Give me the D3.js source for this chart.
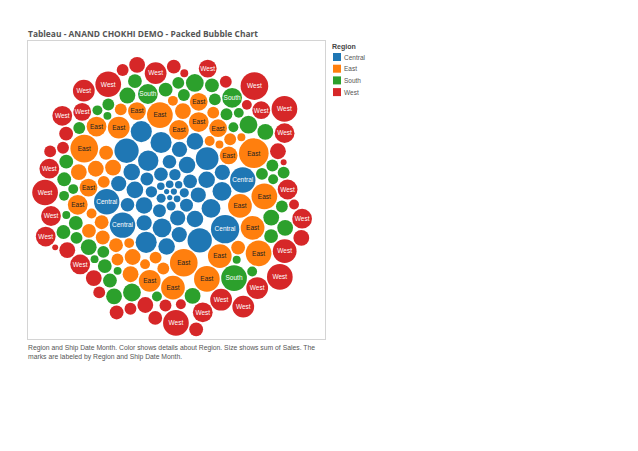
<!DOCTYPE html>
<html><head><meta charset="utf-8">
<script src="https://cdn.jsdelivr.net/npm/d3@7"></script>
<style>body{margin:0;background:#fff;} svg{display:block;}</style>
</head><body>
<svg id="chart" width="638" height="451"></svg>
<script>
const regions = ["Central", "East", "South", "West"];
const colors = ["#1f77b4", "#ff7f0e", "#2ca02c", "#d62728"];
const months = d3.range(48).map(i => d3.timeFormat("%b %Y")(new Date(2009 + Math.floor(i / 12), i % 12, 1)));

const centralSales = [700, 1000, 700, 1500, 1150, 1400, 2100, 1450, 2150, 3300, 2100, 4300, 3300, 4750, 4300, 5900, 4750, 7000, 4300, 7000, 5900, 9100, 4750, 7050, 10700, 7000, 5950, 9080, 7020, 11400, 5920, 13200, 7030, 5910, 15100, 4760, 9090, 16500, 7010, 11420, 5900, 20500, 15080, 7040, 16480, 5930, 11390, 16520];
const eastSales = [10000, 3600, 14400, 2500, 6400, 19600, 4900, 8100, 2510, 16900, 3610, 6390, 10020, 1600, 14380, 4910, 8090, 22500, 3590, 6410, 12100, 2490, 16880, 4890, 8110, 3620, 14420, 6400, 2500, 19580, 4900, 9990, 3600, 8100, 16920, 2510, 6390, 12110, 4880, 3600, 10010, 1610, 14400, 6420, 3590, 8120, 4900, 16900];
const southSales = [3600, 4900, 2500, 6400, 3610, 1600, 4890, 10000, 2510, 6400, 3590, 4910, 1610, 8100, 3600, 2490, 6390, 4900, 16900, 3620, 2500, 4880, 6410, 1590, 3600, 8110, 2500, 4900, 3610, 6400, 10020, 2510, 4890, 3600, 1600, 6420, 3590, 4900, 2500, 8090, 3600, 1610, 4910, 6400, 2490, 3610, 4900, 3590];
const westSales = [16900, 2500, 12100, 10000, 6400, 10010, 6390, 9990, 6410, 12090, 16880, 10000, 10020, 6400, 2510, 3600, 1600, 3590, 8100, 3610, 10000, 9980, 8110, 4900, 3600, 2490, 4910, 16920, 16900, 12110, 10000, 14400, 900, 910, 6400, 4890, 4900, 3600, 12100, 16910, 3590, 3610, 8100, 12090, 4900, 19600, 10010, 6400];
const seriesSales = [centralSales, eastSales, southSales, westSales];

const svg = d3.select("#chart");
const font = "'Liberation Sans', Arial, sans-serif";

// title
svg.append("text").attr("x", 28).attr("y", 37)
  .attr("font-family", "'Open Sans', sans-serif").attr("font-weight", "bold")
  .attr("font-size", 8.8).attr("fill", "#555")
  .attr("textLength", 230).attr("lengthAdjust", "spacingAndGlyphs")
  .text("Tableau - ANAND CHOKHI DEMO - Packed Bubble Chart");

// plot border
svg.append("rect").attr("x", 27.5).attr("y", 40.5).attr("width", 298).attr("height", 299)
  .attr("fill", "none").attr("stroke", "#d4d4d4");

// data
const data = [];
regions.forEach((reg, ri) => {
  seriesSales[ri].forEach((v, i) => data.push({region: reg, ri, month: months[i], sales: v}));
});
const maxSales = d3.max(data, d => d.sales);
const rScale = d3.scaleSqrt().domain([0, maxSales]).range([0, 1]);
const pad = 0.05;
const nodes = data.map(d => ({...d, r: rScale(d.sales) + pad}));
d3.packSiblings(nodes);
const enc = d3.packEnclose(nodes);
const cx = 176, cy = 190, R = 149;
const k = R / enc.r;
const color = d3.scaleOrdinal().domain(regions).range(colors);

nodes.forEach(n => {
  n.px = cx + (n.x - enc.x) * k;
  n.py = cy + (n.y - enc.y) * k;
  n.pr = rScale(n.sales) * k;
});
const g = svg.append("g");
g.selectAll("circle").data(nodes).join("circle")
  .attr("cx", d => d.px).attr("cy", d => d.py).attr("r", d => d.pr)
  .attr("fill", d => color(d.region));

const minLabelR = {Central: 12.2, East: 8.5, South: 9.4, West: 8.5};
g.selectAll("text.lab").data(nodes.filter(d => d.pr >= minLabelR[d.region]))
  .join("text").attr("class", "lab")
  .attr("x", d => d.px).attr("y", d => d.py + 2.3)
  .attr("text-anchor", "middle").attr("font-family", font).attr("font-size", 6.5)
  .attr("fill", d => d.region === "East" ? "#222" : "#fff").text(d => d.region);

// legend
const lg = svg.append("g").attr("transform", "translate(332,0)");
lg.append("text").attr("x", 0).attr("y", 49).attr("font-family", font).attr("font-weight", "bold")
  .attr("font-size", 7).attr("fill", "#444").text("Region");
regions.forEach((reg, i) => {
  const y = 53 + i * 11.7;
  lg.append("rect").attr("x", 1).attr("y", y).attr("width", 8).attr("height", 8).attr("fill", colors[i]);
  lg.append("text").attr("x", 12).attr("y", y + 6.5).attr("font-family", font).attr("font-size", 6.5)
    .attr("fill", "#555").text(reg);
});

// caption
const cap = svg.append("text").attr("font-family", font).attr("font-size", 6.8).attr("fill", "#555");
cap.append("tspan").attr("x", 28).attr("y", 350).text("Region and Ship Date Month.  Color shows details about Region.  Size shows sum of Sales.  The");
cap.append("tspan").attr("x", 28).attr("y", 359).text("marks are labeled by Region and Ship Date Month.");
</script>
</body></html>
